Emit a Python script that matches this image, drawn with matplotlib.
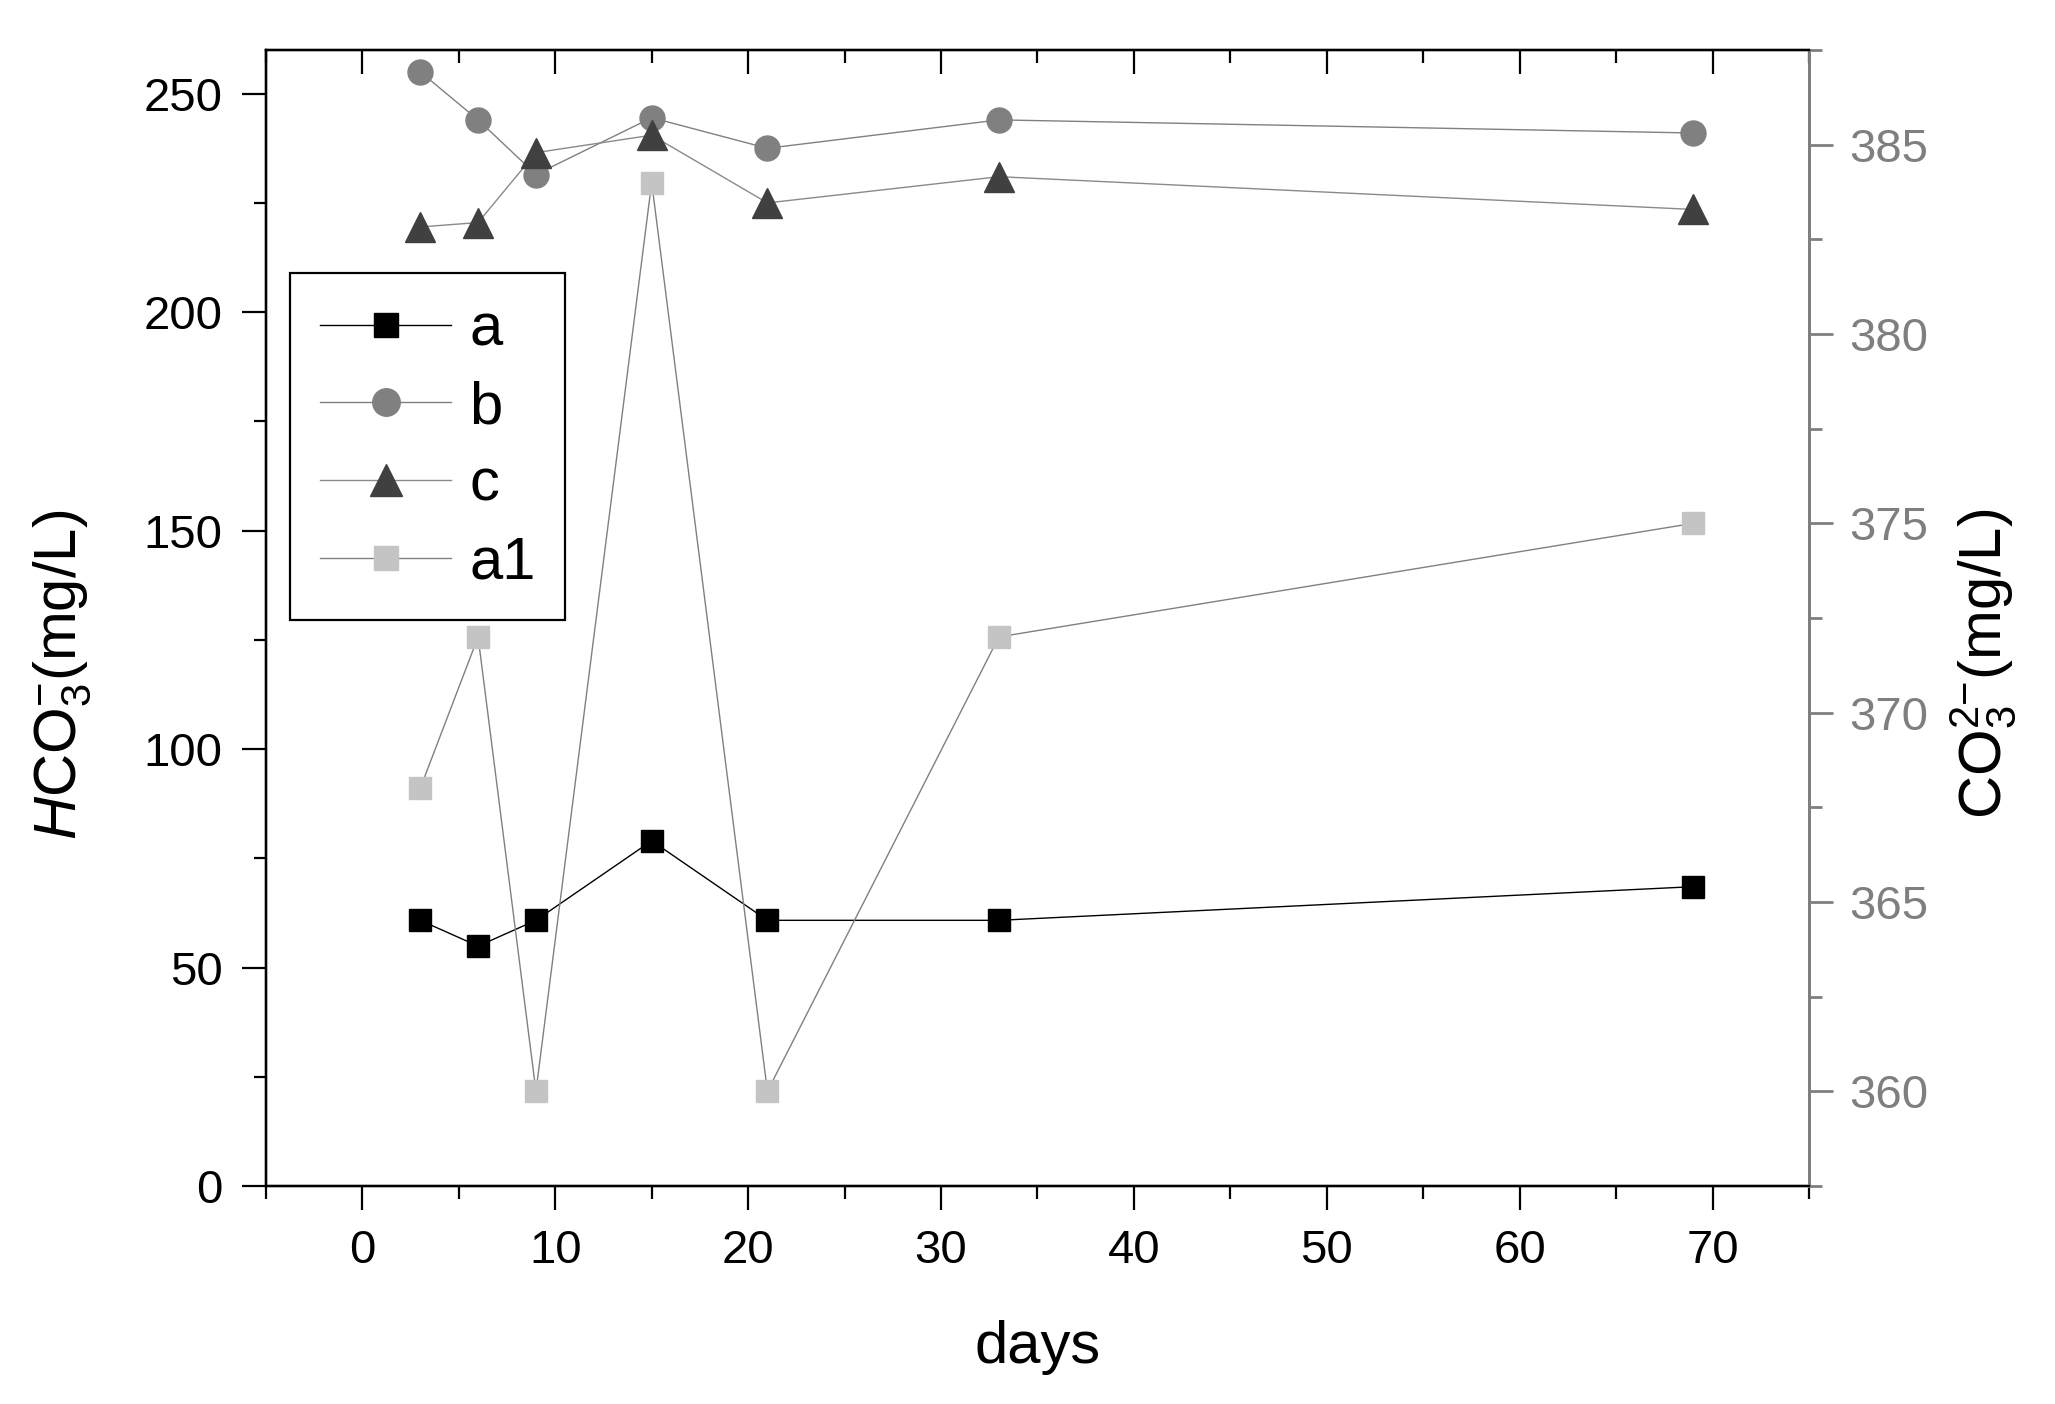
import numpy as np
import matplotlib
matplotlib.use('Agg')
import matplotlib.pyplot as plt
from matplotlib.ticker import MultipleLocator

plt.rcParams['font.family'] = ['Liberation Sans', 'DejaVu Sans']
plt.rcParams['mathtext.fontset'] = 'custom'
plt.rcParams['mathtext.rm'] = 'Liberation Sans'
plt.rcParams['mathtext.it'] = 'Liberation Sans:italic'

# datos
dias = [3, 6, 9, 15, 21, 33, 69]
hco3_a = [60.8, 54.9, 60.8, 79.0, 60.8, 60.8, 68.5]
hco3_b = [255.0, 244.0, 231.5, 244.5, 237.5, 244.0, 241.0]
hco3_c = [219.5, 220.5, 236.5, 240.5, 225.0, 231.0, 223.5]
co3_a1 = [368, 372, 360, 384, 360, 372, 375]

gris_der = '#7f7f7f'

fig = plt.figure(figsize=(20.55, 14.04), dpi=100)
ax = fig.add_axes([0.1294, 0.1553, 0.7509, 0.8091])
ax2 = ax.twinx()

la, = ax.plot(dias, hco3_a, color='black', lw=1.0, marker='s', ms=16,
              mfc='black', mec='black', label='a')
lb, = ax.plot(dias, hco3_b, color='#808080', lw=1.0, marker='o', ms=18,
              mfc='#808080', mec='#808080', label='b')
lc, = ax.plot(dias, hco3_c, color='#8a8a8a', lw=1.0, marker='^', ms=21,
              mfc='#404040', mec='#404040', label='c')
la1, = ax2.plot(dias, co3_a1, color='#808080', lw=1.0, marker='s', ms=16,
                mfc='#c4c4c4', mec='#c4c4c4', label='a1')

ax.set_xlim(-5, 75)
ax.set_ylim(0, 260)
ax2.set_ylim(357.5, 387.5)

ax.xaxis.set_major_locator(MultipleLocator(10))
ax.xaxis.set_minor_locator(MultipleLocator(5))
ax.yaxis.set_major_locator(MultipleLocator(50))
ax.yaxis.set_minor_locator(MultipleLocator(25))
ax2.yaxis.set_major_locator(MultipleLocator(5))
ax2.yaxis.set_minor_locator(MultipleLocator(2.5))

# bordes: sin ocultar ninguno, solo se superponen
for a in [ax, ax2]:
    for s in ['left', 'bottom', 'top']:
        a.spines[s].set_linewidth(1.6)
        a.spines[s].set_color('black')
    a.spines['right'].set_color(gris_der)
    a.spines['right'].set_linewidth(2.0)

ax.tick_params(axis='x', which='major', direction='out', top=False, labelsize=34, pad=14, width=1.6, length=17)
ax.tick_params(axis='x', which='minor', direction='out', top=False, width=1.6, length=9)
ax.tick_params(axis='y', which='major', direction='out', right=False, labelsize=34, pad=14, width=1.6, length=17)
ax.tick_params(axis='y', which='minor', direction='out', right=False, width=1.6, length=9)
ax2.tick_params(axis='y', which='major', direction='out', colors=gris_der, labelsize=34, pad=12, width=2.0, length=17)
ax2.tick_params(axis='y', which='minor', direction='out', colors=gris_der, width=2.0, length=9)

ax.set_xlabel('days', fontsize=43, labelpad=34)
ax.set_ylabel(r'$\mathit{H}\mathrm{CO}_3^{-}$(mg/L)', fontsize=43)
ax2.set_ylabel(r'$\mathrm{CO}_3^{2\mathrm{-}}$(mg/L)', fontsize=43, color='black')
ax.yaxis.set_label_coords(-0.112, 0.45)
ax2.yaxis.set_label_coords(1.09, 0.46)

leg = ax2.legend(handles=[la, lb, lc, la1], loc='upper left',
                 bbox_to_anchor=(0.0156, 0.804), borderaxespad=0,
                 fontsize=43, handlelength=2.2, handletextpad=0.3,
                 labelspacing=0.38, borderpad=0.5, markerscale=1.1,
                 fancybox=False, framealpha=1, edgecolor='black')
leg.get_frame().set_linewidth(1.6)

# eje extra solo para los ticks de arriba (hacia adentro)
ax3 = ax.twiny()
ax3.set_xlim(-5, 75)
ax3.xaxis.set_major_locator(MultipleLocator(10))
ax3.xaxis.set_minor_locator(MultipleLocator(5))
for s in ['left', 'bottom', 'top']:
    ax3.spines[s].set_linewidth(1.6)
ax3.spines['right'].set_color(gris_der)
ax3.spines['right'].set_linewidth(2.0)
ax3.tick_params(axis='x', which='major', direction='in', top=True, bottom=False,
                labeltop=False, labelbottom=False, width=1.6, length=17)
ax3.tick_params(axis='x', which='minor', direction='in', top=True, bottom=False,
                labeltop=False, labelbottom=False, width=1.6, length=9)

fig.savefig('out.png', dpi=100)
